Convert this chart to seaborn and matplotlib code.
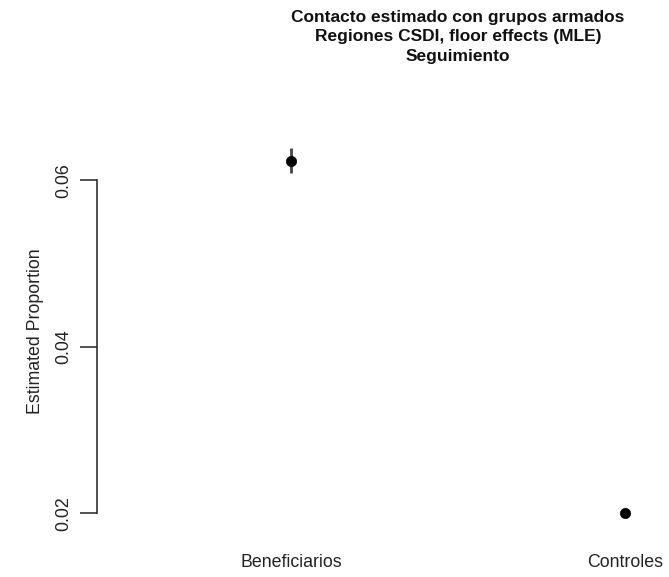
import matplotlib
matplotlib.use("Agg")
import matplotlib.pyplot as plt
import seaborn as sns
import pandas as pd
import numpy as np

groups = ["Beneficiarios", "Controles"]
estimates = [0.0623, 0.0200]
lower = [0.0609, 0.0199]
upper = [0.0639, 0.0201]
yticks = [0.02, 0.04, 0.06]

sns.set_style("white")
plt.rcParams['font.family'] = ['Liberation Sans', 'DejaVu Sans']

df = pd.DataFrame({"x": [1, 2], "group": groups, "est": estimates,
                   "lo": lower, "hi": upper})

fig = plt.figure(figsize=(6.69, 5.77), dpi=100)
W, H = 669, 577
left, right = 97, 819
top, bottom = 133, 529
ax = fig.add_axes([left / W, 1 - bottom / H, (right - left) / W, (bottom - top) / H])

ax.vlines(df["x"], df["lo"], df["hi"], color="#444444", lw=2, zorder=2)
sns.scatterplot(data=df, x="x", y="est", ax=ax, color="black", s=55,
                edgecolor="black", linewidth=0.5, zorder=3, legend=False)

fs = 12.8
ax.set_xlim(0.42, 2.58)
ax.set_ylim(0.0181, 0.0657)
ax.set_xticks(df["x"])
ax.set_xticklabels(groups, fontsize=fs, color="#222222")
ax.tick_params(axis="x", bottom=False, length=0, pad=18)
ax.set_yticks(yticks)
ax.set_yticklabels(["0.02", "0.04", "0.06"], rotation=90, va="center",
                   fontsize=fs, color="#222222")
ax.tick_params(axis="y", left=True, length=12, width=1.1, color="#222222", pad=6)
for s in ["top", "right", "bottom"]:
    ax.spines[s].set_visible(False)
ax.spines["left"].set_bounds(0.02, 0.06)
ax.spines["left"].set_color("#222222")
ax.spines["left"].set_linewidth(1.1)
ax.set_xlabel("")
ax.set_ylabel("Estimated Proportion", fontsize=fs, color="#222222", labelpad=8)

fig.text(458 / W, 1 - 37 / H,
         "Contacto estimado con grupos armados\nRegiones CSDI, floor effects (MLE)\nSeguimiento",
         ha="center", va="center", fontsize=12.5, fontweight="bold",
         linespacing=1.35, color="#111111")

fig.savefig("out.png", dpi=100)
